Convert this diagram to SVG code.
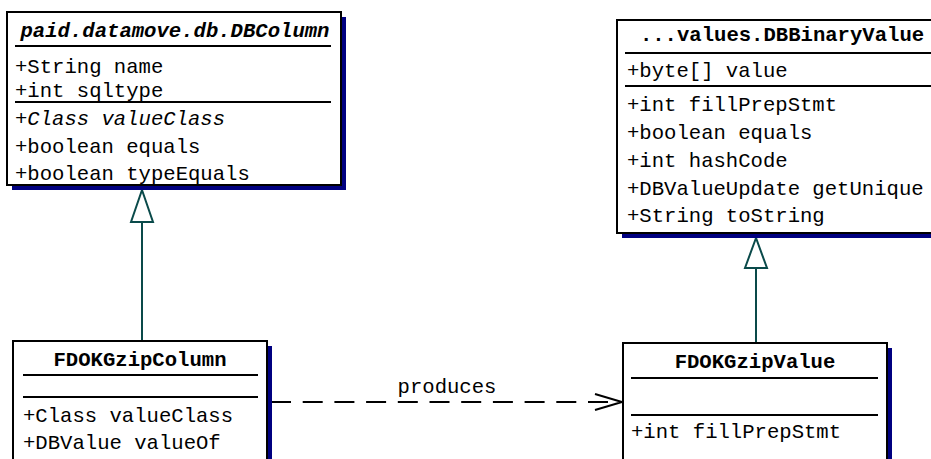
<svg xmlns="http://www.w3.org/2000/svg" width="931" height="459" viewBox="0 0 931 459">
<style>
.shadow{fill:#000080;stroke:none}
.box{fill:#ffffff;stroke:#000000;stroke-width:2}
.sep{stroke:#000000;stroke-width:2}
text{font-family:"Liberation Mono","Courier New",monospace;font-size:20.6px;fill:#000000}
.title{font-weight:bold;text-anchor:middle}
.abs{font-style:italic}
.gen{fill:#ffffff;stroke:#0a4a4a;stroke-width:2}
.genline{stroke:#0a4a4a;stroke-width:2;fill:none}
.dep{stroke:#000000;stroke-width:2;fill:none}
</style>
<rect width="931" height="459" fill="#ffffff"/>
<g id="connectors">
<line class="genline" x1="142" y1="341" x2="142" y2="222"/>
<polygon class="gen" points="142,190 131,222 153,222"/>
<line class="genline" x1="756" y1="343" x2="756" y2="268"/>
<polygon class="gen" points="756,238 745,268 767,268"/>
<line class="dep" x1="271" y1="402" x2="621" y2="402" stroke-dasharray="20 11.7"/>
<polyline class="dep" points="595,394 622,402 595,410"/>
<text x="447" y="393" text-anchor="middle">produces</text>
</g>
<g id="DBColumn">
<rect class="shadow" x="12" y="17" width="334" height="173"/>
<rect class="box" x="7" y="12" width="334" height="173"/>
<text class="title abs" x="175" y="37">paid.datamove.db.DBColumn</text>
<line class="sep" x1="15" y1="46" x2="331" y2="46"/>
<text x="15" y="73">+String name</text>
<text x="15" y="97">+int sqltype</text>
<line class="sep" x1="15" y1="102" x2="331" y2="102"/>
<text class="abs" x="15" y="125">+Class valueClass</text>
<text x="15" y="153">+boolean equals</text>
<text x="15" y="180">+boolean typeEquals</text>
</g>
<g id="DBBinaryValue">
<rect class="shadow" x="622" y="25" width="330" height="213"/>
<rect class="box" x="617" y="20" width="330" height="213"/>
<text class="title" x="782" y="41">...values.DBBinaryValue</text>
<line class="sep" x1="625" y1="53" x2="940" y2="53"/>
<text x="627" y="77">+byte[] value</text>
<line class="sep" x1="625" y1="86" x2="940" y2="86"/>
<text x="627" y="111">+int fillPrepStmt</text>
<text x="627" y="139">+boolean equals</text>
<text x="627" y="167">+int hashCode</text>
<text x="627" y="195">+DBValueUpdate getUnique</text>
<text x="627" y="222">+String toString</text>
</g>
<g id="FDOKGzipColumn">
<rect class="shadow" x="18" y="346" width="254" height="140"/>
<rect class="box" x="13" y="341" width="254" height="140"/>
<text class="title" x="140" y="366">FDOKGzipColumn</text>
<line class="sep" x1="23" y1="375" x2="258" y2="375"/>
<line class="sep" x1="23" y1="397" x2="258" y2="397"/>
<text x="23" y="422">+Class valueClass</text>
<text x="23" y="449">+DBValue valueOf</text>
</g>
<g id="FDOKGzipValue">
<rect class="shadow" x="628" y="348" width="264" height="140"/>
<rect class="box" x="623" y="343" width="264" height="140"/>
<text class="title" x="755" y="368">FDOKGzipValue</text>
<line class="sep" x1="631" y1="378" x2="878" y2="378"/>
<line class="sep" x1="631" y1="415" x2="878" y2="415"/>
<text x="631" y="438">+int fillPrepStmt</text>
</g>
</svg>
